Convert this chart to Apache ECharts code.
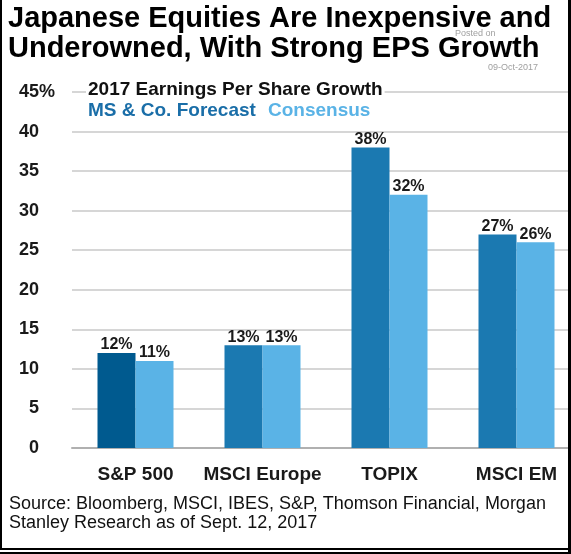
<!DOCTYPE html>
<html>
<head>
<meta charset="utf-8">
<script src="https://cdn.jsdelivr.net/npm/echarts@6/dist/echarts.min.js"></script>
<style>
  html, body { margin: 0; padding: 0; background: #ffffff; }
  #chart { width: 571px; height: 554px; }
</style>
</head>
<body>
<div id="chart"></div>
<script>
// ---- data ----
const categories = ['S&P 500', 'MSCI Europe', 'TOPIX', 'MSCI EM'];
const msForecast = [12, 13, 38, 27];
const consensus = [11, 13, 32, 26];
const seriesNames = ['MS & Co. Forecast', 'Consensus'];
const titleLines = ['Japanese Equities Are Inexpensive and', 'Underowned, With Strong EPS Growth'];
const legendTitle = '2017 Earnings Per Share Growth';
const sourceLines = ['Source: Bloomberg, MSCI, IBES, S&P, Thomson Financial, Morgan', 'Stanley Research as of Sept. 12, 2017'];
const watermark = ['Posted on', '09-Oct-2017'];
const yMin = 0, yMax = 45, yStep = 5;

const C_MS = '#1b79b1';
const C_MS_DARK = '#005a8f';
const C_CONS = '#5ab3e6';
const FONT = 'Liberation Sans, Arial, sans-serif';

const chart = echarts.init(document.getElementById('chart'), null, { renderer: 'canvas' });

const msData = msForecast.map((v, i) => i === 0 ? { value: v, itemStyle: { color: C_MS_DARK } } : v);

const barLabel = {
  show: true, position: 'top', distance: 0,
  formatter: '{c}%', color: '#1a1a1a', fontFamily: FONT, fontWeight: 'bold', fontSize: 16
};

chart.setOption({
  animation: false,
  backgroundColor: '#ffffff',
  grid: { left: 72, top: 92, width: 508, height: 356, containLabel: false, outerBoundsMode: 'none' },
  xAxis: {
    type: 'category',
    data: categories,
    axisLine: { show: true, lineStyle: { color: '#b0b0b0', width: 2 } },
    axisTick: { show: false },
    axisLabel: { interval: 0, hideOverlap: false, margin: 17, color: '#1a1a1a', fontFamily: FONT, fontWeight: 'bold', fontSize: 19 }
  },
  yAxis: {
    type: 'value', min: yMin, max: yMax, interval: yStep,
    axisLine: { show: false }, axisTick: { show: false },
    splitLine: { lineStyle: { color: '#c8c8c8', width: 1.5 } },
    axisLabel: { margin: 33, color: '#1a1a1a', fontFamily: FONT, fontWeight: 'bold', fontSize: 18 }
  },
  series: [
    { name: seriesNames[0], type: 'bar', data: msData, barWidth: 38, barGap: '0%',
      itemStyle: { color: C_MS }, label: barLabel },
    { name: seriesNames[1], type: 'bar', data: consensus, barWidth: 38, barGap: '0%',
      itemStyle: { color: C_CONS }, label: barLabel }
  ],
  graphic: [
    // title
    { type: 'text', left: 8, top: 4, z: 10, style: { text: titleLines[0], fill: '#000', font: 'bold 29px ' + FONT } },
    { type: 'text', left: 8, top: 34, z: 10, style: { text: titleLines[1], fill: '#000', font: 'bold 29px ' + FONT } },
    // watermark
    { type: 'text', left: 455, top: 29, z: 11, style: { text: watermark[0], fill: '#a0a0a0', font: '9px ' + FONT } },
    { type: 'text', left: 488, top: 63, z: 11, style: { text: watermark[1], fill: '#a0a0a0', font: '9px ' + FONT } },
    // legend
    { type: 'text', left: 86, top: 80, z: 10, style: { text: legendTitle, fill: '#111', font: 'bold 19px ' + FONT, backgroundColor: '#fff', padding: [0, 2] } },
    { type: 'text', left: 88, top: 101, z: 10, style: { text: seriesNames[0], fill: '#1a6ea8', font: 'bold 19px ' + FONT } },
    { type: 'text', left: 268, top: 101, z: 10, style: { text: seriesNames[1], fill: C_CONS, font: 'bold 19px ' + FONT } },
    // % on top tick
    { type: 'text', left: 39, top: 83, z: 10, style: { text: '%', fill: '#1a1a1a', font: 'bold 18px ' + FONT } },
    // source
    { type: 'text', left: 9, top: 495, z: 10, style: { text: sourceLines[0], fill: '#111', font: '18px ' + FONT } },
    { type: 'text', left: 9, top: 514, z: 10, style: { text: sourceLines[1], fill: '#111', font: '18px ' + FONT } },
    // frame
    { type: 'rect', z: 20, shape: { x: 0, y: 0, width: 2, height: 550 }, style: { fill: '#000' } },
    { type: 'rect', z: 20, shape: { x: 568, y: 0, width: 3, height: 554 }, style: { fill: '#000' } },
    { type: 'rect', z: 20, shape: { x: 0, y: 548, width: 571, height: 2 }, style: { fill: '#000' } },
    { type: 'rect', z: 20, shape: { x: 0, y: 552, width: 571, height: 2 }, style: { fill: '#000' } }
  ]
});
</script>
</body>
</html>
